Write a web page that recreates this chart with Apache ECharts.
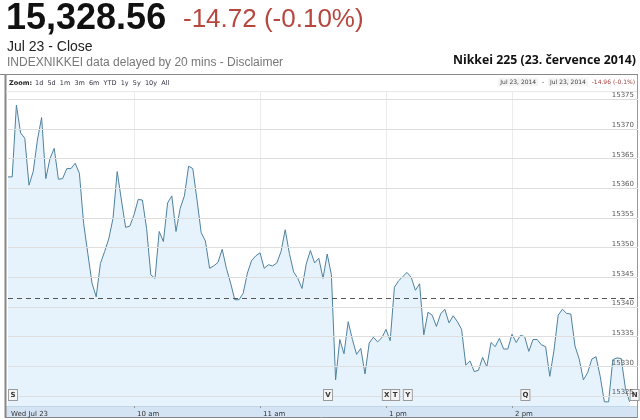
<!DOCTYPE html>
<html>
<head>
<meta charset="utf-8">
<script src="https://cdn.jsdelivr.net/npm/echarts@6/dist/echarts.min.js"></script>
<style>
html,body{margin:0;padding:0;background:#fff;}
#chart{width:640px;height:420px;}
</style>
</head>
<body>
<div id="chart"></div>
<script>
// ---- data ----
// price every 2 trading minutes, 9:00 .. 11:28 then 12:30 .. 14:56 (Nikkei 225, 23 Jul 2014)
const price = [
15361.9,15361.9,15374.0,15369.3,15368.4,15360.5,15362.8,15368.1,15371.9,15361.6,
15365.0,15366.7,15361.5,15361.6,15363.3,15363.3,15364.2,15362.5,15354.1,15349.0,
15344.0,15341.7,15347.3,15349.3,15351.5,15354.9,15362.8,15358.0,15353.4,15353.6,
15355.5,15358.1,15358.0,15353.2,15345.4,15344.8,15352.7,15351.0,15357.5,15358.7,
15352.7,15356.6,15358.7,15363.7,15363.3,15358.0,15352.5,15351.1,15346.5,15346.9,
15347.5,15349.7,15346.5,15344.0,15341.2,15341.2,15342.3,15345.7,15347.8,15348.6,
15349.1,15346.5,15347.1,15346.9,15347.4,15349.3,15353.0,15349.0,15345.9,15344.8,
15343.1,15347.2,15349.5,15347.4,15348.2,15344.8,15348.9,15345.4,15327.7,15334.5,
15332.1,15337.5,15334.5,15332.0,15333.0,15328.7,15333.9,15334.9,15334.1,15334.8,
15336.2,15334.3,15343.3,15344.4,15345.1,15345.8,15345.0,15342.8,15343.9,15335.3,
15339.1,15338.6,15336.7,15338.8,15339.6,15337.3,15338.5,15337.5,15336.2,15330.2,
15330.9,15329.1,15329.3,15331.5,15329.9,15334.0,15333.3,15334.7,15332.9,15332.9,
15335.4,15334.0,15335.2,15335.0,15332.5,15334.5,15334.5,15333.6,15333.3,15328.3,
15332.7,15338.6,15339.6,15338.9,15338.8,15333.4,15331.2,15327.7,15328.9,15331.2,
15331.6,15328.3,15324.0,15324.0,15331.1,15331.4,15331.3,15326.3,15324.0
];
const prevCloseLevel = 15341.5;
const yTicks = [15325,15330,15335,15340,15345,15350,15355,15360,15365,15370,15375];
const xLabelTimes = ['9:00','10:00','11:00','13:00','14:00'];
const xLabelTexts = ['Wed Jul 23','10 am','11 am','1 pm','2 pm'];
const flagLetters = ['S','V','X','T','Y','Q','N'];
const flagTimes = ['9:00','12:30','12:58','13:02','13:08','14:04','14:56'];
const yMin = 15323.3, yMax = 15376.2;

// trading-session time categories (lunch break 11:30-12:30 removed)
function fmt(h, m){ return h + ':' + (m < 10 ? '0' + m : m); }
const times = [];
for (let t = 9*60; t <= 11*60+28; t += 2) times.push(fmt(Math.floor(t/60), t%60));
for (let t = 12*60+30; t <= 15*60; t += 2) times.push(fmt(Math.floor(t/60), t%60));

const labelOf = {};
xLabelTimes.forEach((t,i)=>{ labelOf[t] = xLabelTexts[i]; });
const gridTimes = {'10:00':1,'11:00':1,'13:00':1,'14:00':1};

const chart = echarts.init(document.getElementById('chart'), null, {renderer:'canvas'});

const gridLines = yTicks.map(v => ({
  yAxis: v,
  lineStyle: {color:'#dedede', type:'solid', width:1},
  label: {show:true, position:'insideEndTop', formatter: String(v), color:'#5a5a5a',
          fontSize:7, fontFamily:'DejaVu Sans', distance:[4, 0]}
}));
gridLines.push({
  yAxis: prevCloseLevel,
  lineStyle: {color:'#555', type:[5,4], width:1},
  label: {show:false}
});

const flagPoints = flagLetters.map((L,i)=>({
  coord: [flagTimes[i], yMin],
  value: L
}));

const option = {
  animation: false,
  grid: {left:8, right:2, top:92, bottom:14, containLabel:false},
  xAxis: {
    type:'category', data: times, boundaryGap:false,
    axisLine:{show:false},
    axisTick:{show:true, length:2, lineStyle:{color:'#999'}, interval:(i,v)=>!!gridTimes[v]},
    axisLabel:{
      show:true, interval:(i,v)=>labelOf[v]!==undefined,
      formatter:(v)=>labelOf[v]||'', align:'left', padding:[0,0,0,3],
      margin:5, color:'#333', fontSize:7, fontFamily:'DejaVu Sans'
    },
    splitLine:{show:true, interval:(i,v)=>!!gridTimes[v], lineStyle:{color:'#ececec', width:1}}
  },
  yAxis: {
    type:'value', min:yMin, max:yMax, show:false, splitLine:{show:false}
  },
  graphic: [
    {type:'rect', shape:{x:6, y:406, width:632, height:11}, style:{fill:'#d4e4f5'}, z:-1, silent:true},
    {type:'line', shape:{x1:6, y1:406.5, x2:638, y2:406.5}, style:{stroke:'#c2d6ea', lineWidth:1}, z:-1},
    {type:'line', shape:{x1:5, y1:417.5, x2:638, y2:417.5}, style:{stroke:'#888', lineWidth:1}},
    {type:'line', shape:{x1:5.5, y1:75, x2:5.5, y2:418}, style:{stroke:'#888', lineWidth:2}},
    {type:'line', shape:{x1:637.5, y1:75, x2:637.5, y2:418}, style:{stroke:'#999', lineWidth:1}},
    {type:'line', shape:{x1:0, y1:74.5, x2:638, y2:74.5}, style:{stroke:'#888', lineWidth:1}},
    {type:'line', shape:{x1:6, y1:91.5, x2:637, y2:91.5}, style:{stroke:'#e8e8e8', lineWidth:1}},
    {type:'text', x:6, y:19, style:{text:'15,328.56', font:'bold 36px "Liberation Sans", Arial', fill:'#111', textVerticalAlign:'middle'}},
    {type:'text', x:183, y:20, style:{text:'-14.72 (-0.10%)', font:'26px "Liberation Sans", Arial', fill:'#b5473f', textVerticalAlign:'middle'}},
    {type:'text', x:7, y:47.5, style:{text:'Jul 23 - Close', font:'14px "Liberation Sans", Arial', fill:'#222', textVerticalAlign:'middle'}},
    {type:'text', x:7, y:62.5, style:{text:'INDEXNIKKEI data delayed by 20 mins - Disclaimer', font:'12px "Liberation Sans", Arial', fill:'#777', textVerticalAlign:'middle'}},
    {type:'text', x:636, y:60.5, style:{text:'Nikkei 225 (23. července 2014)', font:'bold 12.3px "Open Sans", sans-serif', fill:'#111', textAlign:'right', textVerticalAlign:'middle'}},
    {type:'text', x:9, y:83.5, style:{text:'Zoom:', font:'bold 6.5px "DejaVu Sans"', fill:'#222', textVerticalAlign:'middle'}},
    {type:'text', x:35, y:83.5, style:{text:'1d  5d  1m  3m  6m  YTD  1y  5y  10y  All', font:'6.5px "DejaVu Sans"', fill:'#334', textVerticalAlign:'middle'}},
    {type:'text', x:635, y:82, style:{
      text:'{d|Jul 23, 2014}  -  {d|Jul 23, 2014}  {r|-14.96 (-0.1%)}',
      textAlign:'right', textVerticalAlign:'middle',
      font:'6px "DejaVu Sans"', fill:'#444',
      rich:{ d:{fontSize:6, fontFamily:'DejaVu Sans', fill:'#444', backgroundColor:'#f4f4f4', padding:[1,2]},
             r:{fontSize:6, fontFamily:'DejaVu Sans', fill:'#a04040'} }
    }}
  ],
  series: [{
    type:'line', data: price, showSymbol:false, symbol:'none', smooth:false,
    lineStyle:{color:'#4e819f', width:1},
    areaStyle:{color:'#e6f3fc', opacity:1},
    z:2,
    markLine:{silent:true, symbol:['none','none'], animation:false, data: gridLines},
    markPoint:{
      silent:true, symbol:'rect', symbolSize:[9,11], symbolOffset:[5,-11],
      itemStyle:{color:'#f5f5f5', borderColor:'#999', borderWidth:1},
      label:{show:true, position:'inside', formatter:(p)=>p.value, color:'#333', fontSize:7, fontWeight:'bold', fontFamily:'DejaVu Sans'},
      data: flagPoints
    }
  }]
};
chart.setOption(option);
</script>
</body>
</html>
